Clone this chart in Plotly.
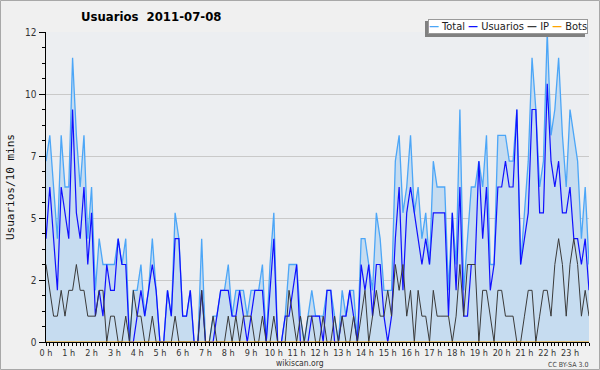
import plotly.graph_objects as go

# 10-minute slots over the day (144 points)
slots = list(range(144))

usuarios = [
    4, 6, 4, 2, 6, 5, 4, 9, 5, 4,
    6, 3, 5, 1, 2, 1, 3, 2, 2, 4,
    3, 3, 0, 0, 1, 2, 1, 2, 3, 2,
    0, 0, 2, 1, 4, 4, 1, 1, 2, 0,
    0, 2, 0, 0, 0, 1, 2, 2, 2, 1,
    1, 2, 1, 0, 1, 2, 2, 2, 0, 2,
    4, 0, 0, 1, 1, 2, 3, 0, 0, 0,
    1, 1, 1, 0, 2, 2, 0, 0, 1, 1,
    2, 1, 0, 3, 2, 3, 1, 3, 3, 1,
    0, 1, 4, 6, 2, 5, 6, 5, 4, 3,
    4, 3, 5, 5, 5, 5, 1, 5, 2, 6,
    1, 1, 3, 3, 7, 4, 6, 2, 3, 6,
    6, 7, 6, 6, 9, 3, 4, 5, 9, 9,
    5, 5, 10, 7, 6, 7, 5, 5, 6, 4,
    4, 3, 4, 2,
]

ip = [
    3, 2, 1, 1, 2, 1, 2, 2, 3, 2,
    2, 1, 1, 1, 2, 2, 0, 1, 1, 0,
    0, 1, 0, 2, 1, 1, 0, 0, 1, 0,
    0, 0, 0, 0, 1, 0, 0, 0, 0, 0,
    0, 2, 0, 0, 1, 0, 0, 0, 1, 0,
    1, 0, 1, 1, 1, 0, 0, 1, 0, 0,
    1, 0, 0, 0, 2, 1, 0, 1, 0, 1,
    1, 0, 0, 1, 0, 0, 1, 0, 1, 0,
    0, 1, 0, 1, 2, 0, 1, 2, 1, 1,
    2, 1, 3, 2, 3, 1, 2, 0, 2, 1,
    1, 0, 2, 1, 1, 1, 1, 0, 1, 3,
    1, 3, 3, 3, 0, 2, 2, 1, 0, 2,
    2, 1, 1, 1, 0, 0, 1, 2, 2, 0,
    1, 2, 2, 1, 3, 4, 3, 1, 3, 4,
    3, 1, 2, 1,
]

total = [
    7, 8, 6, 4, 8, 6, 6, 11, 8, 6,
    8, 4, 6, 2, 4, 3, 3, 3, 3, 4,
    3, 4, 0, 2, 2, 3, 1, 2, 4, 2,
    0, 0, 2, 1, 5, 4, 1, 1, 2, 0,
    0, 4, 0, 0, 1, 1, 2, 2, 3, 1,
    2, 2, 2, 1, 2, 2, 2, 3, 0, 3,
    5, 0, 0, 1, 3, 3, 3, 1, 0, 1,
    2, 1, 1, 1, 2, 2, 1, 0, 2, 1,
    2, 2, 0, 4, 4, 3, 2, 5, 4, 2,
    2, 2, 7, 8, 5, 6, 8, 5, 6, 4,
    5, 3, 7, 6, 6, 6, 2, 5, 3, 9,
    2, 4, 6, 6, 7, 6, 8, 3, 3, 8,
    8, 8, 7, 7, 9, 3, 5, 7, 11, 9,
    6, 7, 12, 8, 9, 11, 8, 6, 9, 8,
    7, 4, 6, 3,
]

bots = [0] * 144

hour_ticks = list(range(0, 144, 6))
hour_labels = [f"{h} h" for h in range(24)]
y_ticks = [0, 2.4, 4.8, 7.2, 9.6, 12]
y_labels = ["0", "2", "5", "7", "10", "12"]

FONT = "DejaVu Sans Condensed, DejaVu Sans, sans-serif"

# plot-area geometry in pixels (used only to place frame/legend/labels)
W, H = 600, 370
L, R, T, B = 46, 11, 32, 28
PW, PH = W - L - R, H - T - B
BOTTOM = H - B


def px(x):
    return (x - L) / PW


def py(y):
    return (BOTTOM - y) / PH


fig = go.Figure()
fig.add_trace(go.Scatter(x=slots, y=total, name="Total", mode="lines",
                         line=dict(color="#4ca6f7", width=1.3),
                         fill="tozeroy", fillcolor="#c6dcf0"))
fig.add_trace(go.Scatter(x=slots, y=usuarios, name="Usuarios", mode="lines",
                         line=dict(color="#1010ff", width=1.2)))
fig.add_trace(go.Scatter(x=slots, y=ip, name="IP", mode="lines",
                         line=dict(color="#3a3a3a", width=1)))
fig.add_trace(go.Scatter(x=slots, y=bots, name="Bots", mode="lines",
                         line=dict(color="#ffa500", width=1)))

fig.update_layout(
    width=W, height=H,
    margin=dict(l=L, r=R, t=T, b=B, pad=0),
    paper_bgcolor="#f0f0f0",
    plot_bgcolor="#eceef1",
    showlegend=False,
    hovermode=False,
    font=dict(family=FONT, size=10, color="#333333"),
    xaxis=dict(
        range=[0, 143], tickmode="array", tickvals=hour_ticks, ticktext=hour_labels,
        showgrid=False, zeroline=False, showline=True, linecolor="#000000", linewidth=1,
        ticks="outside", ticklen=2, tickcolor="#000000", tickwidth=1,
        tickfont=dict(family=FONT, size=9, color="#333333"),
        minor=dict(dtick=1, tick0=0, ticks="outside", ticklen=3, tickcolor="#000000", showgrid=False),
        fixedrange=True,
    ),
    yaxis=dict(
        range=[0, 12], tickmode="array", tickvals=y_ticks, ticktext=y_labels,
        showgrid=True, gridcolor="#c9c9c9", gridwidth=1, zeroline=False,
        showline=True, linecolor="#000000", linewidth=1.5,
        ticks="outside", ticklen=6, tickcolor="#000000", tickwidth=1,
        tickfont=dict(family=FONT, size=10, color="#333333"),
        minor=dict(dtick=0.6, tick0=0, ticks="outside", ticklen=3, tickcolor="#000000", showgrid=False),
        fixedrange=True,
    ),
    shapes=[
        # outer frame
        dict(type="rect", xref="paper", yref="paper",
             x0=px(0.5), x1=px(599.5), y0=py(369.5), y1=py(0.5),
             line=dict(color="#a8a8a8", width=1), fillcolor="rgba(0,0,0,0)", layer="below"),
        # legend shadow
        dict(type="rect", xref="paper", yref="paper",
             x0=px(425), x1=px(585), y0=py(37), y1=py(21),
             line=dict(width=0), fillcolor="#808080", layer="above"),
    ],
    annotations=[
        dict(text="<b>Usuarios  2011-07-08</b>", xref="paper", yref="paper",
             x=px(151), y=py(16), xanchor="center", yanchor="middle",
             showarrow=False, font=dict(family=FONT, size=13, color="#000000")),
        dict(text=('<span style="color:#4ca6f7"><b>—</b></span> Total '
                   '<span style="color:#1010ff"><b>—</b></span> Usuarios '
                   '<span style="color:#3a3a3a"><b>—</b></span> IP '
                   '<span style="color:#ffa500"><b>—</b></span> Bots'),
             xref="paper", yref="paper", x=px(588), y=py(19),
             xanchor="right", yanchor="top", showarrow=False,
             bgcolor="#ffffff", bordercolor="#9a9a9a", borderwidth=1, borderpad=0,
             font=dict(family=FONT, size=11, color="#222222")),
        dict(text="Usuarios/10 mins", xref="paper", yref="paper",
             x=px(10), y=0.5, xanchor="center", yanchor="middle", textangle=-90,
             showarrow=False, font=dict(family="DejaVu Sans Mono, monospace", size=11, color="#111111")),
        dict(text="wikiscan.org", xref="paper", yref="paper",
             x=px(300), y=py(369.5), xanchor="center", yanchor="bottom",
             showarrow=False, font=dict(family=FONT, size=8.5, color="#333333")),
        dict(text="CC BY-SA 3.0", xref="paper", yref="paper",
             x=px(590), y=py(365.5), xanchor="right", yanchor="middle",
             showarrow=False, font=dict(family=FONT, size=7, color="#444444")),
    ],
)

fig.write_html("out.html", config={"displayModeBar": False, "staticPlot": True},
               post_script="document.body.style.margin='0';document.body.style.overflow='hidden';")
